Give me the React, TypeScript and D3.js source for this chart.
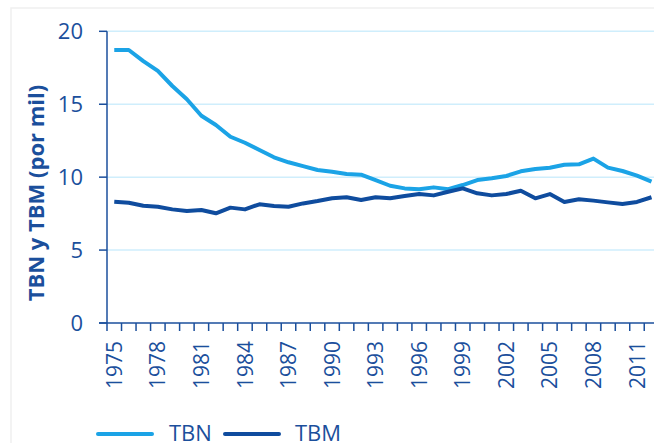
import * as d3 from 'd3';
import React from 'react';

const years = d3.range(1975, 2013);
const tbn = [
    18.72, 18.72, 17.96, 17.28, 16.25, 15.34, 14.21, 13.58, 12.77, 12.36,
    11.86, 11.36, 11.02, 10.76, 10.49, 10.37, 10.21, 10.17, 9.8, 9.41,
    9.23, 9.17, 9.3, 9.17, 9.46, 9.8, 9.92, 10.08, 10.4, 10.56,
    10.65, 10.85, 10.88, 11.27, 10.65, 10.42, 10.1, 9.69,
];
const tbm = [
    8.32, 8.25, 8.04, 7.97, 7.79, 7.68, 7.75, 7.52, 7.91, 7.79,
    8.14, 8.02, 7.97, 8.2, 8.36, 8.55, 8.62, 8.43, 8.62, 8.55,
    8.71, 8.84, 8.75, 9.0, 9.23, 8.89, 8.75, 8.84, 9.07, 8.55,
    8.84, 8.3, 8.48, 8.39, 8.27, 8.16, 8.3, 8.62,
];
const yTicks = [0, 5, 10, 15, 20];
const labelYears = years.filter((y) => (y - 1975) % 3 === 0);

const width = 654;
const height = 443;
const axisX = 107;
const axisY = 323;
const font = '"Open Sans", sans-serif';
const textColor = '#1b4f9c';
const tbnColor = '#1ba3e6';
const tbmColor = '#0f4c9e';

const App = () => {
    const x = d3
        .scaleBand<number>()
        .domain(years)
        .range([axisX, axisX + years.length * 14.52]);
    const y = d3.scaleLinear().domain([0, 20]).range([axisY, 31.3]);
    const cx = (yr: number) => (x(yr) ?? 0) + x.bandwidth() / 2;

    const line = d3
        .line<number>()
        .x((_, i) => cx(years[i]))
        .y((d) => y(d));

    // ticks sit on the band edges, labels on the band centres
    const boundaries = [...years.map((yr) => x(yr) ?? 0), x.range()[1]];

    return (
        <svg
            width={width}
            height={height}
            style={{ position: 'absolute', left: 0, top: 0, background: '#fff' }}
            fontFamily={font}
        >
            <rect x={11} y={8} width={700} height={500} fill="#fff" stroke="#efefef" strokeWidth={1.5} />

            {yTicks.slice(1).map((t) => (
                <line key={t} x1={axisX} x2={width} y1={y(t)} y2={y(t)} stroke="#cfeefc" strokeWidth={1.5} />
            ))}

            {yTicks.map((t) => (
                <g key={t}>
                    <line x1={99} x2={axisX} y1={y(t)} y2={y(t)} stroke={textColor} strokeWidth={1.5} />
                    <text x={83} y={y(t)} dy="0.36em" textAnchor="end" fontSize={22} fill={textColor}>
                        {t}
                    </text>
                </g>
            ))}
            <line x1={axisX} x2={axisX} y1={y(20)} y2={axisY} stroke={textColor} strokeWidth={1.5} />

            <line x1={99} x2={x.range()[1]} y1={axisY} y2={axisY} stroke={textColor} strokeWidth={1.5} />
            {boundaries.map((b, i) => (
                <line key={i} x1={b} x2={b} y1={axisY} y2={axisY + 8} stroke={textColor} strokeWidth={1.5} />
            ))}
            {labelYears.map((yr) => (
                <text
                    key={yr}
                    transform={`translate(${cx(yr)},341) rotate(-90)`}
                    dy="0.36em"
                    textAnchor="end"
                    fontSize={21}
                    fill={textColor}
                >
                    {yr}
                </text>
            ))}

            <text
                transform={`translate(36,193) rotate(-90)`}
                dy="0.36em"
                textAnchor="middle"
                fontSize={22}
                fontWeight="bold"
                fill={textColor}
            >
                TBN y TBM (por mil)
            </text>

            <path d={line(tbn) ?? ''} fill="none" stroke={tbnColor} strokeWidth={4} strokeLinejoin="round" />
            <path d={line(tbm) ?? ''} fill="none" stroke={tbmColor} strokeWidth={4} strokeLinejoin="round" />

            <line x1={98} x2={152} y1={434} y2={434} stroke={tbnColor} strokeWidth={4} strokeLinecap="round" />
            <text x={169} y={441} fontSize={22} fill={textColor}>TBN</text>
            <line x1={225} x2={279} y1={434} y2={434} stroke={tbmColor} strokeWidth={4} strokeLinecap="round" />
            <text x={295} y={441} fontSize={22} fill={textColor}>TBM</text>
        </svg>
    );
};

export default App;
